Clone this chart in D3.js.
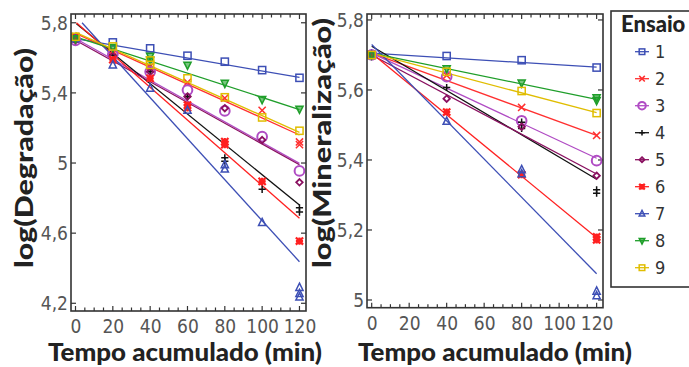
<!DOCTYPE html>
<html><head><meta charset="utf-8">
<script src="https://cdn.jsdelivr.net/npm/d3@7"></script>
<style>body{margin:0;background:#fff}</style>
</head><body><svg id="c" width="689" height="367"></svg>
<script>
// ---- data ----
const seriesNames = ["1","2","3","4","5","6","7","8","9"];
const seriesColors = ["#3d4fb5","#ff3030","#b04cc4","#111111","#8a1060","#ff2020","#3d4fb5","#1f9e2a","#e0bd00"];
const seriesMarkers = ["square","x","circle","plus","diamond","asterisk","triangle","triangleDown","square"];

const timesDeg = [0,20,40,60,80,100,120];
const deg1 = [5.71, 5.688, 5.654, 5.612, 5.578, 5.53, 5.486];
const deg2 = [5.72, 5.64, 5.55, 5.46, 5.37, 5.30, [5.12, 5.105]];
const deg3 = [5.70, 5.62, 5.52, 5.416, 5.297, 5.15, 4.955];
const deg4 = [5.72, 5.616, 5.52, 5.378, [5.03, 5.01], 4.85, [4.745, 4.72]];
const deg5 = [5.70, 5.61, 5.52, 5.38, 5.313, 5.131, 4.89];
const deg6 = [5.72, 5.59, 5.483, [5.33, 5.315], [5.122, 5.105], 4.895, 4.555];
const deg7 = [5.71, 5.559, 5.426, 5.30, [4.99, 4.965], 4.66, [4.29, 4.255, 4.235]];
const deg8 = [5.71, 5.66, [5.61, 5.587], 5.559, 5.455, 5.363, 5.308];
const deg9 = [5.72, 5.665, [5.585, 5.56], 5.483, 5.375, 5.26, 5.184];
const degValues = [deg1, deg2, deg3, deg4, deg5, deg6, deg7, deg8, deg9];
const degFitStartT = [0, 0, 0, 0.5, 0, 0.5, 3.5, 0, 0];
const degFitStartV = [5.71, 5.74, 5.71, 5.795, 5.70, 5.80, 5.80, 5.72, 5.745];
const degFitEndV   = [5.488, 5.16, 4.998, 4.76, 4.99, 4.685, 4.437, 5.305, 5.175];

const timesMin = [0,40,80,120];
const min1 = [5.70, 5.697, 5.685, 5.664];
const min2 = [5.70, 5.642, 5.55, 5.47];
const min3 = [5.70, 5.638, 5.512, 5.398];
const min4 = [5.70, 5.607, [5.508, 5.49], [5.315, 5.305]];
const min5 = [5.70, 5.575, 5.495, 5.355];
const min6 = [5.70, 5.537, 5.358, [5.18, 5.172]];
const min7 = [5.70, 5.51, [5.372, 5.36], [5.025, 5.012]];
const min8 = [5.70, 5.661, 5.62, [5.578, 5.57]];
const min9 = [5.70, 5.652, 5.597, 5.534];
const minValues = [min1, min2, min3, min4, min5, min6, min7, min8, min9];
const minFitStartV = [5.705, 5.705, 5.705, 5.725, 5.70, 5.705, 5.73, 5.705, 5.705];
const minFitEndV   = [5.665, 5.47, 5.405, 5.345, 5.36, 5.178, 5.075, 5.573, 5.535];

const xTickValues = [0,20,40,60,80,100,120];
const degYTicks = [4.2, 4.6, 5, 5.4, 5.8];
const minYTicks = [5, 5.2, 5.4, 5.6, 5.8];
const degTitle = "log(Degradação)";
const minTitle = "log(Mineralização)";
const xTitle = "Tempo acumulado (min)";
const legendTitle = "Ensaio";

// ---- drawing ----
const svg = d3.select("#c");
const tickFont = "'Liberation Sans Narrow','DejaVu Sans Condensed','Arial Narrow',sans-serif";
const titleFont = "Lato,'Open Sans',sans-serif";
const fmt = v => String(v).replace(".", ",");

function marker(g, type, cx, cy, color, s) {
  const sw = 1.5;
  if (type === "square") {
    g.append("rect").attr("x", cx - s).attr("y", cy - s).attr("width", 2*s).attr("height", 2*s)
      .attr("fill", "none").attr("stroke", color).attr("stroke-width", sw);
  } else if (type === "circle") {
    g.append("circle").attr("cx", cx).attr("cy", cy).attr("r", s*1.35)
      .attr("fill", "none").attr("stroke", color).attr("stroke-width", 2);
  } else if (type === "diamond") {
    const r = s*0.9;
    g.append("path").attr("d", `M${cx},${cy-r}L${cx+r},${cy}L${cx},${cy+r}L${cx-r},${cy}Z`)
      .attr("fill", "none").attr("stroke", color).attr("stroke-width", 1.8);
  } else if (type === "triangle") {
    g.append("path").attr("d", `M${cx},${cy-s*1.2}L${cx+s},${cy+s*0.8}L${cx-s},${cy+s*0.8}Z`)
      .attr("fill", "none").attr("stroke", color).attr("stroke-width", sw);
  } else if (type === "triangleDown") {
    g.append("path").attr("d", `M${cx},${cy+s*1.2}L${cx+s},${cy-s*0.8}L${cx-s},${cy-s*0.8}Z`)
      .attr("fill", color).attr("fill-opacity", 0.6).attr("stroke", color).attr("stroke-width", sw);
  } else if (type === "x") {
    g.append("path").attr("d", `M${cx-s},${cy-s}L${cx+s},${cy+s}M${cx-s},${cy+s}L${cx+s},${cy-s}`)
      .attr("stroke", color).attr("stroke-width", sw);
  } else if (type === "plus") {
    g.append("path").attr("d", `M${cx-s},${cy}L${cx+s},${cy}M${cx},${cy-s}L${cx},${cy+s}`)
      .attr("stroke", color).attr("stroke-width", sw);
  } else if (type === "asterisk") {
    g.append("path").attr("d", `M${cx-s},${cy-s}L${cx+s},${cy+s}M${cx-s},${cy+s}L${cx+s},${cy-s}M${cx-s},${cy}L${cx+s},${cy}M${cx},${cy-s}L${cx},${cy+s}`)
      .attr("stroke", color).attr("stroke-width", 2.2);
  }
}

function panel(opt) {
  const x = d3.scaleLinear().domain(opt.xDomain).range([opt.left, opt.right]);
  const y = d3.scaleLinear().domain(opt.yDomain).range([opt.bottom, opt.top]);
  const g = svg.append("g");
  const clipId = "clip" + opt.id;
  svg.append("clipPath").attr("id", clipId).append("rect")
    .attr("x", opt.left).attr("y", opt.top).attr("width", opt.right - opt.left).attr("height", opt.bottom - opt.top);

  const minorX = d3.range(0, 121, 5);
  const tg = g.append("g").attr("stroke", "#333").attr("stroke-width", 1.2);
  minorX.forEach(t => {
    const len = (t % 20 === 0) ? 5 : 3.5;
    tg.append("line").attr("x1", x(t)).attr("x2", x(t)).attr("y1", opt.bottom).attr("y2", opt.bottom - len);
    tg.append("line").attr("x1", x(t)).attr("x2", x(t)).attr("y1", opt.top).attr("y2", opt.top + len);
  });
  opt.yTicks.forEach(v => {
    tg.append("line").attr("x1", opt.left).attr("x2", opt.left + 5).attr("y1", y(v)).attr("y2", y(v));
    tg.append("line").attr("x1", opt.right).attr("x2", opt.right - 5).attr("y1", y(v)).attr("y2", y(v));
  });

  const xAxis = d3.axisBottom(x).tickValues(xTickValues).tickSize(0).tickPadding(0).tickFormat(fmt);
  const xa = g.append("g").attr("transform", `translate(0,${opt.bottom + 6})`).call(xAxis);
  xa.select(".domain").remove();
  xa.selectAll("text").attr("font-family", tickFont).attr("font-size", 19).attr("fill", "#555").attr("dy", "0.85em");
  const yAxis = d3.axisLeft(y).tickValues(opt.yTicks).tickSize(0).tickPadding(0).tickFormat(fmt);
  const ya = g.append("g").attr("transform", `translate(${opt.left - 3},0)`).call(yAxis);
  ya.select(".domain").remove();
  ya.selectAll("text").attr("font-family", tickFont).attr("font-size", 19).attr("fill", "#555").attr("dy", "0.35em");

  const dg = g.append("g").attr("clip-path", `url(#${clipId})`);
  for (let i = 0; i < seriesNames.length; i++) {
    const col = seriesColors[i];
    dg.append("line")
      .attr("x1", x(opt.fitT0[i])).attr("y1", y(opt.fitV0[i]))
      .attr("x2", x(120)).attr("y2", y(opt.fitV1[i]))
      .attr("stroke", col).attr("stroke-width", 1.3);
  }
  for (let i = 0; i < seriesNames.length; i++) {
    const col = seriesColors[i];
    const vals = opt.values[i];
    vals.forEach((v, j) => {
      const arr = Array.isArray(v) ? v : [v];
      arr.forEach(vv => marker(dg, seriesMarkers[i], x(opt.times[j]), y(vv), col, 3.6));
    });
  }

  g.append("rect").attr("x", opt.left).attr("y", opt.top)
    .attr("width", opt.right - opt.left).attr("height", opt.bottom - opt.top)
    .attr("fill", "none").attr("stroke", "#333").attr("stroke-width", 1.6);

  g.append("text").attr("x", opt.xTitleX).attr("y", 361).attr("text-anchor", "middle")
    .attr("font-family", titleFont).attr("font-weight", "900").attr("font-size", 25).attr("fill", "#222")
    .attr("textLength", 274).attr("lengthAdjust", "spacingAndGlyphs")
    .text(xTitle);
  g.append("text").attr("transform", `translate(${opt.yTitleX},268) rotate(-90)`).attr("text-anchor", "start")
    .attr("font-family", titleFont).attr("font-weight", "900").attr("font-size", 25).attr("fill", "#222")
    .attr("textLength", opt.yTitleLen).attr("lengthAdjust", "spacingAndGlyphs")
    .text(opt.yTitle);
}

panel({id: "a", left: 71, right: 306, top: 14, bottom: 311,
  xDomain: [-2.41, 123.5], yDomain: [4.156, 5.85], yTicks: degYTicks,
  times: timesDeg, values: degValues, fitT0: degFitStartT, fitV0: degFitStartV, fitV1: degFitEndV,
  xTitleX: 185, yTitleX: 33, yTitle: degTitle, yTitleLen: 220});

panel({id: "b", left: 367, right: 603, top: 14, bottom: 307.7,
  xDomain: [-2.5, 123.4], yDomain: [4.978, 5.817], yTicks: minYTicks,
  times: timesMin, values: minValues, fitT0: [0,0,0,0,0,0,0,0,0], fitV0: minFitStartV, fitV1: minFitEndV,
  xTitleX: 495, yTitleX: 331, yTitle: minTitle, yTitleLen: 250});

const lg = svg.append("g");
lg.append("rect").attr("x", 611).attr("y", 11).attr("width", 100).attr("height", 276)
  .attr("fill", "#fff").attr("stroke", "#333").attr("stroke-width", 1.6);
lg.append("text").attr("x", 621).attr("y", 32).attr("font-family", titleFont).attr("font-weight", "900")
  .attr("font-size", 22).attr("fill", "#222").text(legendTitle);
const ly = d3.scaleLinear().domain([0, 8]).range([51.7, 267.7]);
seriesNames.forEach((n, i) => {
  const yy = ly(i);
  lg.append("line").attr("x1", 635).attr("x2", 649).attr("y1", yy).attr("y2", yy)
    .attr("stroke", seriesColors[i]).attr("stroke-width", 1.3);
  marker(lg, seriesMarkers[i], 642, yy, seriesColors[i], 2.8);
  lg.append("text").attr("x", 655).attr("y", yy).attr("dy", "0.36em")
    .attr("font-family", tickFont).attr("font-size", 18).attr("fill", "#333").text(n);
});
</script></body></html>
